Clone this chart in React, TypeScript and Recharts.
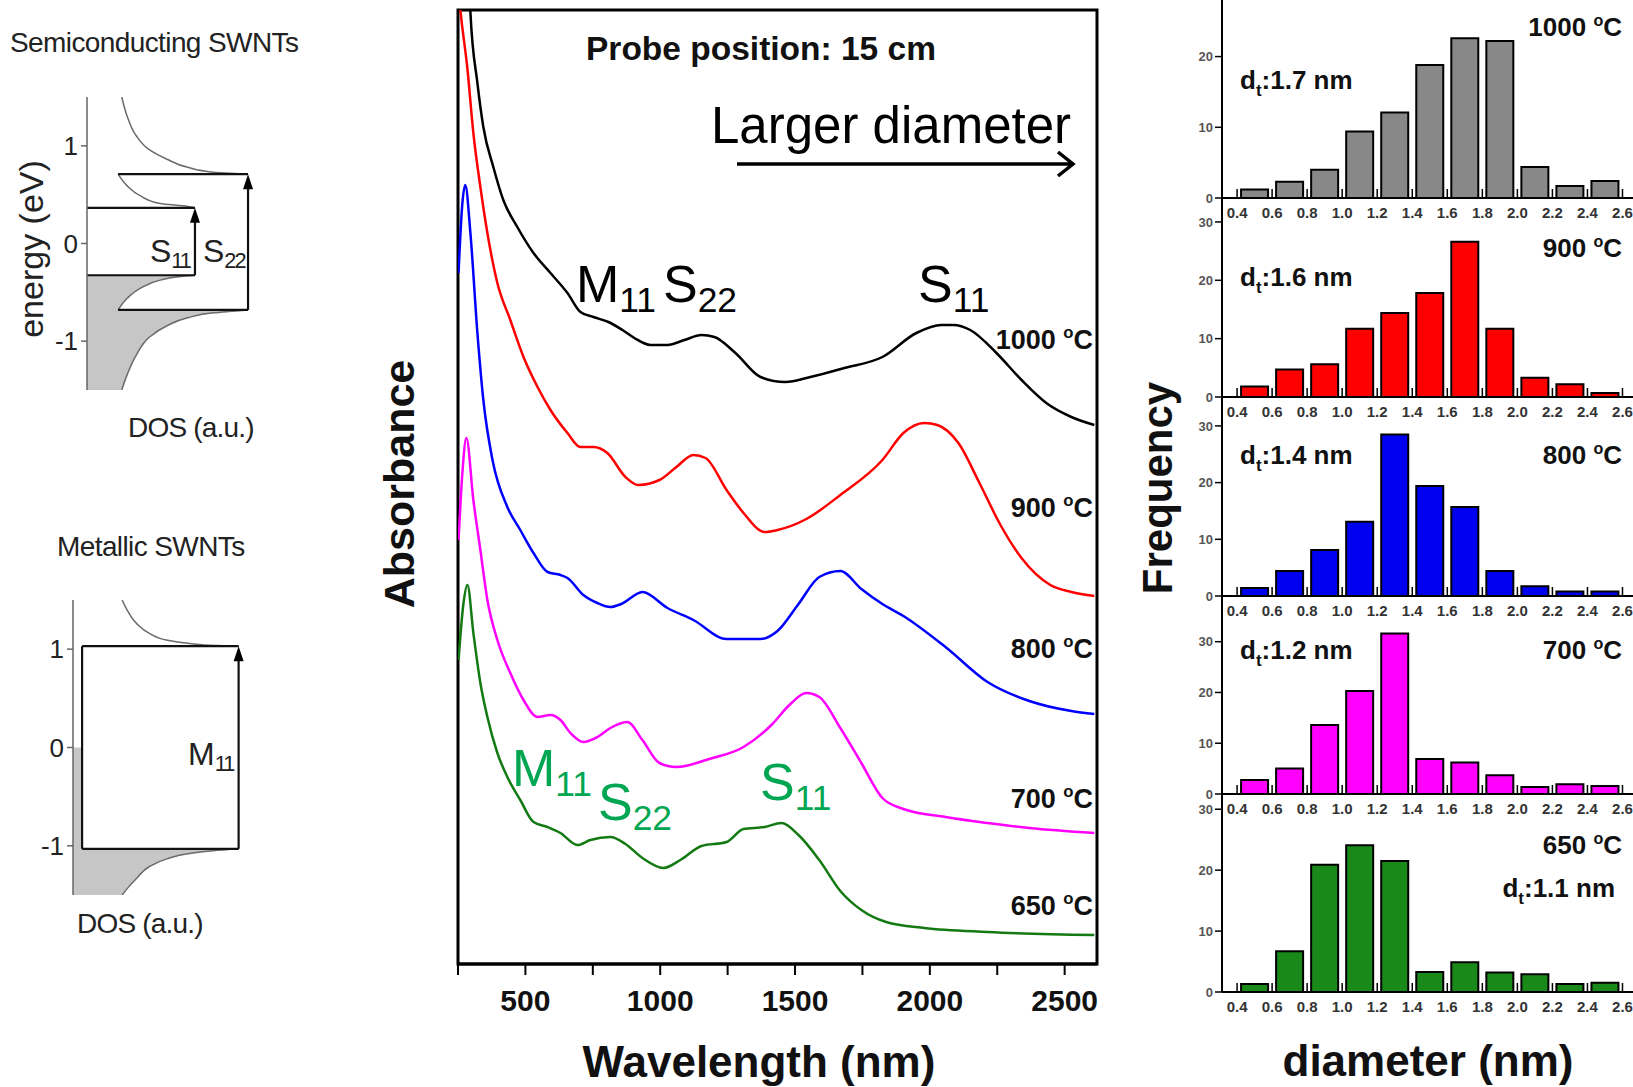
import React from 'react';
import {
  LineChart, Line, XAxis, YAxis, ReferenceArea, ReferenceLine, ReferenceDot,
  BarChart, Bar, ComposedChart, Area,
} from 'recharts';

const SANS = '"Liberation Sans", Arial, Helvetica, sans-serif';

// ---- absorbance spectra: [wavelength (nm), absorbance (a.u., curves offset)]
const spec1000 = [
  [288, 10.3], [296, 9.52], [322, 8.81], [344, 8.37], [381, 7.97], [418, 7.64], [470, 7.37],
  [530, 7.11], [593, 6.91], [656, 6.71], [704, 6.52], [752, 6.47], [808, 6.42], [860, 6.34],
  [904, 6.26], [964, 6.19], [1027, 6.19], [1090, 6.24], [1153, 6.29], [1201, 6.27], [1279, 6.11],
  [1372, 5.87], [1464, 5.82], [1557, 5.87], [1683, 5.96], [1824, 6.07], [1950, 6.31], [2043, 6.39],
  [2087, 6.39], [2150, 6.34], [2247, 6.11], [2340, 5.84], [2432, 5.61], [2525, 5.47], [2610, 5.39],
];
const spec900 = [
  [252, 9.75], [259, 9.54], [285, 8.95], [307, 8.31], [333, 7.77], [359, 7.31], [396, 6.81],
  [444, 6.44], [493, 6.07], [545, 5.77], [593, 5.54], [656, 5.31], [704, 5.17], [752, 5.17],
  [804, 5.11], [871, 4.87], [919, 4.79], [997, 4.84], [1060, 4.97], [1123, 5.09], [1168, 5.06],
  [1246, 4.74], [1309, 4.51], [1387, 4.32], [1435, 4.34], [1542, 4.45], [1668, 4.69], [1824, 5.04],
  [1902, 5.31], [1980, 5.41], [2028, 5.39], [2106, 5.21], [2184, 4.81], [2262, 4.39], [2340, 4.06],
  [2447, 3.79], [2525, 3.72], [2610, 3.68],
];
const spec800 = [
  [252, 6.91], [266, 7.6], [277, 7.79], [296, 7.31], [322, 6.31], [344, 5.64], [378, 5.04],
  [433, 4.57], [481, 4.34], [530, 4.11], [582, 3.92], [630, 3.89], [656, 3.86], [715, 3.69],
  [767, 3.61], [815, 3.57], [856, 3.6], [934, 3.72], [1027, 3.56], [1123, 3.44], [1246, 3.25],
  [1372, 3.25], [1435, 3.33], [1513, 3.6], [1590, 3.87], [1668, 3.93], [1746, 3.75], [1824, 3.6],
  [1902, 3.48], [2058, 3.17], [2214, 2.82], [2369, 2.63], [2525, 2.53], [2610, 2.5],
];
const spec700 = [
  [252, 4.24], [266, 4.9], [281, 5.26], [307, 4.64], [333, 4.14], [359, 3.64], [396, 3.24],
  [444, 2.91], [493, 2.64], [545, 2.47], [593, 2.49], [630, 2.44], [667, 2.31], [715, 2.22],
  [767, 2.27], [815, 2.36], [878, 2.42], [934, 2.24], [997, 2.01], [1060, 1.97], [1182, 2.05],
  [1309, 2.17], [1416, 2.4], [1479, 2.59], [1542, 2.71], [1590, 2.67], [1668, 2.36], [1746, 2.01],
  [1824, 1.66], [1902, 1.55], [2058, 1.47], [2214, 1.41], [2369, 1.36], [2610, 1.31],
];
const spec650 = [
  [252, 3.04], [270, 3.6], [285, 3.79], [307, 3.31], [333, 2.81], [359, 2.47], [396, 2.11],
  [433, 1.87], [481, 1.64], [530, 1.42], [582, 1.37], [630, 1.31], [693, 1.19], [741, 1.24],
  [815, 1.27], [871, 1.2], [934, 1.06], [1012, 0.96], [1075, 1.04], [1153, 1.18], [1246, 1.22],
  [1309, 1.35], [1387, 1.37], [1450, 1.41], [1513, 1.29], [1590, 1.04], [1668, 0.73], [1746, 0.54],
  [1838, 0.42], [1980, 0.36], [2214, 0.32], [2610, 0.29],
];
const wavelengthTicks = [250, 500, 750, 1000, 1250, 1500, 1750, 2000, 2250, 2500];

const spectra = [
  { temp: '1000', color: '#000000', points: spec1000 },
  { temp: '900', color: '#ff0000', points: spec900 },
  { temp: '800', color: '#0000ff', points: spec800 },
  { temp: '700', color: '#ff00ff', points: spec700 },
  { temp: '650', color: '#137a13', points: spec650 },
];

// ---- diameter histograms (bin centres in nm, counts)
const diameterBins = [0.5, 0.7, 0.9, 1.1, 1.3, 1.5, 1.7, 1.9, 2.1, 2.3, 2.5];
const diameterTicks = [0.4, 0.6, 0.8, 1.0, 1.2, 1.4, 1.6, 1.8, 2.0, 2.2, 2.4, 2.6];
const count1000 = [1.2, 2.3, 4.0, 9.4, 12.1, 18.8, 22.6, 22.2, 4.4, 1.7, 2.4];
const count900 = [1.8, 4.7, 5.6, 11.7, 14.4, 17.8, 26.6, 11.7, 3.3, 2.2, 0.7];
const count800 = [1.4, 4.4, 8.1, 13.1, 28.5, 19.4, 15.7, 4.4, 1.7, 0.8, 0.8];
const count700 = [2.75, 5.0, 13.6, 20.3, 31.6, 6.9, 6.2, 3.7, 1.4, 1.9, 1.6];
const count650 = [1.3, 6.7, 20.9, 24.1, 21.5, 3.3, 4.9, 3.2, 2.9, 1.3, 1.5];

const histPanels = [
  { temp: '1000', dt: '1.7', color: '#888888', counts: count1000, yMax: 28, yTicks: [0, 10, 20], top: 0, bottom: 198 },
  { temp: '900', dt: '1.6', color: '#ff0000', counts: count900, yMax: 34.1, yTicks: [0, 10, 20, 30], top: 198, bottom: 397 },
  { temp: '800', dt: '1.4', color: '#0000f0', counts: count800, yMax: 35.1, yTicks: [0, 10, 20, 30], top: 397, bottom: 596 },
  { temp: '700', dt: '1.2', color: '#ff00ff', counts: count700, yMax: 39, yTicks: [0, 10, 20, 30], top: 596, bottom: 794 },
  { temp: '650', dt: '1.1', color: '#198a19', counts: count650, yMax: 32.5, yTicks: [0, 10, 20, 30], top: 794, bottom: 992 },
];

// ---- density of states sketches: [energy (eV), DOS (a.u.)]
const semiCondUpper = [[1.5, 0.19], [1.3, 0.22], [1.1, 0.27], [0.96, 0.34], [0.86, 0.44], [0.78, 0.55], [0.73, 0.69], [0.71, 0.88]];
const semiCondLower = [[0.71, 0.17], [0.59, 0.22], [0.49, 0.29], [0.41, 0.4], [0.38, 0.55], [0.365, 0.59]];
const semiValUpper = [[-0.325, 0.59], [-0.34, 0.5], [-0.375, 0.4], [-0.46, 0.29], [-0.56, 0.22], [-0.68, 0.17]];
const semiValLower = [[-0.68, 0.88], [-0.71, 0.69], [-0.76, 0.55], [-0.84, 0.44], [-0.96, 0.34], [-1.14, 0.27], [-1.34, 0.22], [-1.5, 0.19]];
const metalCond = [[1.5, 0.27], [1.39, 0.3], [1.26, 0.35], [1.16, 0.42], [1.09, 0.52], [1.06, 0.63], [1.04, 0.75], [1.03, 0.91]];
const metalVal = [[-1.03, 0.91], [-1.05, 0.77], [-1.08, 0.63], [-1.13, 0.52], [-1.21, 0.42], [-1.33, 0.35], [-1.43, 0.3], [-1.5, 0.27]];
const metalGap = [[0, 0.05], [-1.03, 0.05]];

const toSpec = (pairs: number[][]) => pairs.map(([nm, a]) => ({ nm, a }));
const toDos = (pairs: number[][]) => pairs.map(([e, dos]) => ({ e, dos }));

type Seg = { at: number; from: number; to: number };

const semiLevels: Seg[] = [
  { at: 0.71, from: 0.17, to: 0.88 },
  { at: 0.365, from: 0, to: 0.59 },
  { at: -0.325, from: 0, to: 0.59 },
  { at: -0.68, from: 0.17, to: 0.88 },
];
const semiArrows: Seg[] = [
  { at: 0.59, from: -0.325, to: 0.365 },
  { at: 0.88, from: -0.68, to: 0.71 },
];
const metalLevels: Seg[] = [
  { at: 1.03, from: 0.05, to: 0.91 },
  { at: -1.03, from: 0.05, to: 0.91 },
];
const metalWalls: Seg[] = [{ at: 0.05, from: -1.03, to: 1.03 }];
const metalArrows: Seg[] = [{ at: 0.91, from: -1.03, to: 1.03 }];

const ArrowHead = (p: any) => (
  <polygon points={`${p.cx},${p.cy} ${p.cx - 5},${p.cy + 15} ${p.cx + 5},${p.cy + 15}`} fill="#000" />
);

function DosChart({ width, height, margin, axisWidth, fill, curves, levels, walls, arrows }: any) {
  const axisStyle = { stroke: '#666', strokeWidth: 1.5 };
  return (
    <ComposedChart layout="vertical" width={width} height={height} margin={margin}>
      <XAxis type="number" dataKey="dos" domain={[0, 1]} allowDataOverflow height={0}
        tick={false} tickLine={false} axisLine={axisStyle} />
      <YAxis type="number" dataKey="e" domain={[-1.5, 1.5]} allowDataOverflow reversed ticks={[-1, 0, 1]}
        width={axisWidth} tickSize={6} tickMargin={3} axisLine={axisStyle} tickLine={axisStyle}
        tick={{ fontSize: 26, fill: '#222', fontFamily: SANS }} />
      <Area data={toDos(fill)} dataKey="dos" type="linear" fill="#c6c6c6" fillOpacity={1}
        stroke="none" isAnimationActive={false} />
      {curves.map((c: number[][], i: number) => (
        <Line key={i} data={toDos(c)} dataKey="dos" type="monotone" stroke="#6a6a6a"
          strokeWidth={1.5} dot={false} isAnimationActive={false} />
      ))}
      {levels.map((s: Seg, i: number) => (
        <ReferenceLine key={'l' + i} segment={[{ x: s.from, y: s.at }, { x: s.to, y: s.at }]}
          stroke="#111" strokeWidth={2.2} />
      ))}
      {walls.map((s: Seg, i: number) => (
        <ReferenceLine key={'w' + i} segment={[{ x: s.at, y: s.from }, { x: s.at, y: s.to }]}
          stroke="#111" strokeWidth={2.2} />
      ))}
      {arrows.map((s: Seg, i: number) => (
        <ReferenceLine key={'a' + i} segment={[{ x: s.at, y: s.from }, { x: s.at, y: s.to - 0.08 }]}
          stroke="#111" strokeWidth={2.2} />
      ))}
      {arrows.map((s: Seg, i: number) => (
        <ReferenceDot key={'h' + i} x={s.at} y={s.to} shape={ArrowHead} />
      ))}
    </ComposedChart>
  );
}

function WavelengthTick({ x, y, payload }: any) {
  if (payload.value % 500 !== 0) return <g />;
  return (
    <text x={x} y={y + 34} textAnchor="middle" fontFamily={SANS} fontWeight="bold" fontSize={30} fill="#111">
      {payload.value}
    </text>
  );
}

function DiameterTick({ x, y, payload }: any) {
  return (
    <g>
      <line x1={x} x2={x} y1={y - 2} y2={y - 11} stroke="#000" strokeWidth={1.5} />
      <text x={x} y={y + 18} textAnchor="middle" fontFamily={SANS} fontWeight="bold" fontSize={15} fill="#333">
        {Number(payload.value).toFixed(1)}
      </text>
    </g>
  );
}

function Degrees({ x, y, size, temp, anchor = 'end' }: any) {
  return (
    <text x={x} y={y} textAnchor={anchor} fontFamily={SANS} fontWeight="bold" fontSize={size} fill="#111">
      {temp + ' '}
      <tspan fontSize={size * 0.62} dy={-size * 0.4}>o</tspan>
      <tspan dy={size * 0.4}>C</tspan>
    </text>
  );
}

function Sub({ x, y, size, main, sub, color = '#000', weight = 'normal', family = SANS, spacing = 0 }: any) {
  return (
    <text x={x} y={y} fontFamily={family} fontWeight={weight} fontSize={size} fill={color}>
      {main}
      <tspan fontSize={size * 0.68} dy={size * 0.2} letterSpacing={spacing}>{sub}</tspan>
    </text>
  );
}

function MeanDiameter({ x, y, value, anchor = 'start' }: any) {
  return (
    <text x={x} y={y} textAnchor={anchor} fontFamily={SANS} fontWeight="bold" fontSize={26} fill="#111">
      d<tspan fontSize={17} dy={7}>t</tspan>
      <tspan dy={-7}>{':' + value + ' nm'}</tspan>
    </text>
  );
}

export default function App() {
  return (
    <div style={{ position: 'absolute', left: 0, top: 0, width: 1633, height: 1087, background: '#fff', overflow: 'hidden' }}>
      {/* semiconducting DOS */}
      <div style={{ position: 'absolute', left: 0, top: 60 }}>
        <DosChart width={300} height={400} margin={{ top: 37, right: 30, bottom: 70, left: 0 }} axisWidth={87}
          fill={[...semiValUpper, ...semiValLower]}
          curves={[semiCondUpper, semiCondLower, semiValUpper, semiValLower]}
          levels={semiLevels} walls={[]} arrows={semiArrows} />
      </div>
      {/* metallic DOS */}
      <div style={{ position: 'absolute', left: 0, top: 560 }}>
        <DosChart width={300} height={400} margin={{ top: 40, right: 45, bottom: 65, left: 0 }} axisWidth={73}
          fill={[...metalGap, ...metalVal]}
          curves={[metalCond, metalVal]}
          levels={metalLevels} walls={metalWalls} arrows={metalArrows} />
      </div>

      {/* absorbance spectra */}
      <div style={{ position: 'absolute', left: 340, top: 0 }}>
        <LineChart width={780} height={1087} margin={{ top: 10, right: 23, bottom: 43, left: 118 }}>
          <XAxis type="number" dataKey="nm" domain={[250, 2620]} allowDataOverflow ticks={wavelengthTicks}
            interval={0} height={80} tickSize={11} axisLine={{ stroke: '#000', strokeWidth: 3 }}
            tickLine={{ stroke: '#000', strokeWidth: 2 }} tick={<WavelengthTick />} />
          <YAxis type="number" domain={[0, 9.54]} allowDataOverflow hide />
          {spectra.map((s) => (
            <Line key={s.temp} data={toSpec(s.points)} dataKey="a" type="monotone" stroke={s.color}
              strokeWidth={2.5} dot={false} isAnimationActive={false} />
          ))}
          <ReferenceArea x1={250} x2={2620} y1={0} y2={9.54} fill="none" stroke="#000" strokeWidth={3}
            ifOverflow="visible" />
        </LineChart>
      </div>

      {/* diameter histograms */}
      {histPanels.map((p) => (
        <div key={p.temp} style={{ position: 'absolute', left: 1140, top: p.top }}>
          <BarChart width={493} height={p.bottom - p.top + 30} barSize={27}
            data={diameterBins.map((d, i) => ({ d, n: p.counts[i] }))}
            margin={{ top: 0, right: 0, bottom: 0, left: 0 }}>
            <XAxis type="number" dataKey="d" domain={[0.314, 2.66]} allowDataOverflow ticks={diameterTicks}
              interval={0} height={30} tickSize={0} tickLine={false} tick={<DiameterTick />}
              axisLine={{ stroke: '#000', strokeWidth: 2 }} />
            <YAxis type="number" domain={[0, p.yMax]} allowDataOverflow ticks={p.yTicks} width={82}
              tickSize={7} tickMargin={2} axisLine={{ stroke: '#000', strokeWidth: 2 }}
              tickLine={{ stroke: '#000', strokeWidth: 1.5 }}
              tick={{ fontSize: 13, fontWeight: 'bold', fill: '#555', fontFamily: SANS }} />
            <Bar dataKey="n" fill={p.color} stroke="#000" strokeWidth={2} isAnimationActive={false} />
          </BarChart>
        </div>
      ))}

      <svg width={1633} height={1087} style={{ position: 'absolute', left: 0, top: 0, pointerEvents: 'none' }}>
        {/* DOS sketch labels */}
        <text x={10} y={52} fontFamily={SANS} fontSize={28} letterSpacing={-0.6} fill="#222">Semiconducting SWNTs</text>
        <text transform="translate(43,249) rotate(-90)" textAnchor="middle" fontFamily={SANS} fontSize={34} fill="#222">energy (eV)</text>
        <text x={128} y={437} fontFamily={SANS} fontSize={28} letterSpacing={-0.8} fill="#222">DOS (a.u.)</text>
        <Sub x={150} y={262} size={32} main="S" sub="11" color="#222" spacing={-2} />
        <Sub x={203} y={262} size={32} main="S" sub="22" color="#222" spacing={-2} />
        <text x={57} y={556} fontFamily={SANS} fontSize={28} letterSpacing={-0.6} fill="#222">Metallic SWNTs</text>
        <Sub x={188} y={765} size={32} main="M" sub="11" color="#222" spacing={-2} />
        <text x={77} y={933} fontFamily={SANS} fontSize={28} letterSpacing={-0.8} fill="#222">DOS (a.u.)</text>

        {/* spectra annotations */}
        <text x={761} y={60} textAnchor="middle" fontFamily={SANS} fontWeight="bold" fontSize={33.5} fill="#111">Probe position: 15 cm</text>
        <text x={711} y={143} fontFamily={SANS} fontSize={51} fill="#000">Larger diameter</text>
        <path d="M737 164 H1071 M1058 152 L1073 164 L1058 176" stroke="#000" strokeWidth={3.5} fill="none" />
        <Sub x={576} y={302} size={52} main="M" sub="11" />
        <Sub x={663} y={302} size={52} main="S" sub="22" />
        <Sub x={918} y={302} size={52} main="S" sub="11" />
        <Sub x={512} y={786} size={52} main="M" sub="11" color="#00a651" />
        <Sub x={598} y={820} size={52} main="S" sub="22" color="#00a651" />
        <Sub x={760} y={800} size={52} main="S" sub="11" color="#00a651" />
        <Degrees x={1093} y={349} size={27} temp="1000" />
        <Degrees x={1093} y={517} size={27} temp="900" />
        <Degrees x={1093} y={658} size={27} temp="800" />
        <Degrees x={1093} y={808} size={27} temp="700" />
        <Degrees x={1093} y={915} size={27} temp="650" />
        <text transform="translate(414,484) rotate(-90)" textAnchor="middle" fontFamily={SANS} fontWeight="bold" fontSize={43} fill="#111">Absorbance</text>
        <text x={759} y={1077} textAnchor="middle" fontFamily={SANS} fontWeight="bold" fontSize={44} fill="#111">Wavelength (nm)</text>

        {/* histogram annotations */}
        <Degrees x={1622} y={36} size={26} temp="1000" />
        <MeanDiameter x={1240} y={89} value="1.7" />
        <Degrees x={1622} y={257} size={26} temp="900" />
        <MeanDiameter x={1240} y={286} value="1.6" />
        <Degrees x={1622} y={464} size={26} temp="800" />
        <MeanDiameter x={1240} y={464} value="1.4" />
        <Degrees x={1622} y={659} size={26} temp="700" />
        <MeanDiameter x={1240} y={659} value="1.2" />
        <Degrees x={1622} y={854} size={26} temp="650" />
        <MeanDiameter x={1615} y={897} value="1.1" anchor="end" />
        <text transform="translate(1172,488) rotate(-90)" textAnchor="middle" fontFamily={SANS} fontWeight="bold" fontSize={42} fill="#111">Frequency</text>
        <text x={1428} y={1076} textAnchor="middle" fontFamily={SANS} fontWeight="bold" fontSize={44} fill="#111">diameter (nm)</text>
      </svg>
    </div>
  );
}
